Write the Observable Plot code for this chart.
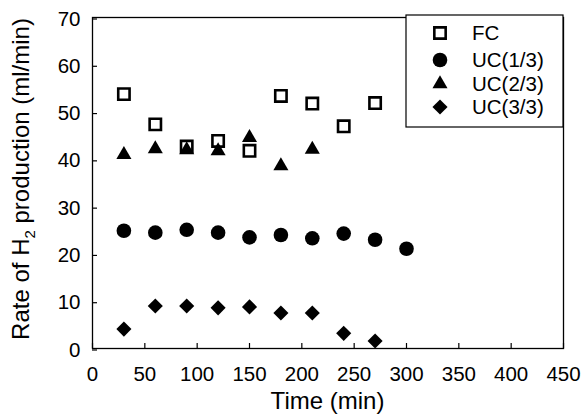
<!DOCTYPE html>
<html>
<head>
<meta charset="utf-8">
<script src="https://cdn.jsdelivr.net/npm/d3@7"></script>
<script src="https://cdn.jsdelivr.net/npm/@observablehq/plot@0.6"></script>
<style>
  html, body { margin: 0; padding: 0; background: #fff; }
  #chart { position: relative; width: 581px; height: 419px; }
</style>
</head>
<body>
<div id="chart"></div>
<script>
// ---- data ----
const timeFC   = [30, 60, 90, 120, 150, 180, 210, 240, 270];
const valFC    = [53.8, 47.4, 42.7, 43.9, 41.8, 53.4, 51.8, 47.0, 51.9];
const timeUC1  = [30, 60, 90, 120, 150, 180, 210, 240, 270, 300];
const valUC1   = [24.9, 24.5, 25.1, 24.5, 23.5, 24.0, 23.3, 24.3, 23.0, 21.1];
const timeUC2  = [30, 60, 90, 120, 150, 180, 210];
const valUC2   = [41.0, 42.2, 42.0, 41.8, 44.6, 38.6, 42.1];
const timeUC3  = [30, 60, 90, 120, 150, 180, 210, 240, 270];
const valUC3   = [4.1, 9.0, 9.0, 8.6, 8.8, 7.5, 7.5, 3.2, 1.6];
const seriesNames = ["FC", "UC(1/3)", "UC(2/3)", "UC(3/3)"];
const xTicks = [0, 50, 100, 150, 200, 250, 300, 350, 400, 450];
const yTicks = [0, 10, 20, 30, 40, 50, 60, 70];
const xTitle = "Time (min)";
const yTitleParts = ["Rate of H", "2", " production (ml/min)"];

const rows = (t, v) => t.map((x, i) => ({t: x, v: v[i]}));
const dFC = rows(timeFC, valFC), dU1 = rows(timeUC1, valUC1),
      dU2 = rows(timeUC2, valUC2), dU3 = rows(timeUC3, valUC3);

const FONT = "'Liberation Sans', Arial, Helvetica, sans-serif";
const W = 581, H = 419, ML = 92, MR = 18, MT = 17, MB = 71;

const styles = [
  {symbol: "square", r: 6.4, fill: "none", stroke: "black", strokeWidth: 2.6},
  {symbol: "circle", r: 7.3, fill: "black", stroke: "none", strokeWidth: 0},
  {symbol: "triangle", r: 5.6, fill: "black", stroke: "none", strokeWidth: 0},
  {symbol: "diamond2", r: 6.8, fill: "black", stroke: "none", strokeWidth: 0}
];

const plot = Plot.plot({
  width: W, height: H,
  marginLeft: ML, marginRight: MR, marginTop: MT, marginBottom: MB,
  style: {fontFamily: FONT, fontSize: "20px", color: "black", background: "white"},
  x: {domain: [0, 450], ticks: xTicks, label: null},
  y: {domain: [0, 70], ticks: yTicks, label: null},
  marks: [
    Plot.frame({stroke: "black", strokeWidth: 1.3}),
    Plot.axisX(xTicks, {tickSize: -5, tickPadding: 23, fontSize: 20.5, label: null, strokeWidth: 1.2}),
    Plot.axisY(yTicks, {tickSize: -5, tickPadding: 17, fontSize: 20.5, dy: 1.5, label: null, strokeWidth: 1.2}),
    Plot.dot(dU2, {x: "t", y: "v", ...styles[2]}),
    Plot.dot(dU1, {x: "t", y: "v", ...styles[1]}),
    Plot.dot(dU3, {x: "t", y: "v", ...styles[3]}),
    Plot.dot(dFC, {x: "t", y: "v", ...styles[0]})
  ]
});

document.getElementById("chart").appendChild(plot);
const svg = d3.select(plot);

// axis titles
svg.append("text")
  .attr("x", (ML + W - MR) / 2).attr("y", 409)
  .attr("text-anchor", "middle")
  .attr("font-family", FONT).attr("font-size", 24).attr("fill", "black")
  .text(xTitle);

const yt = svg.append("text")
  .attr("transform", `translate(29, 179) rotate(-90)`)
  .attr("text-anchor", "middle")
  .attr("font-family", FONT).attr("font-size", 24).attr("fill", "black");
yt.append("tspan").text(yTitleParts[0]);
yt.append("tspan").attr("font-size", 15).attr("dy", 6).text(yTitleParts[1]);
yt.append("tspan").attr("dy", -6).text(yTitleParts[2]);

// legend
const lg = svg.append("g");
lg.append("rect").attr("x", 406).attr("y", 15).attr("width", 157).attr("height", 112)
  .attr("fill", "white").attr("stroke", "black").attr("stroke-width", 1.2);
const symMap = {square: d3.symbolSquare, circle: d3.symbolCircle, triangle: d3.symbolTriangle, diamond2: d3.symbolDiamond2};
const rowY = [33, 60, 84, 107];
seriesNames.forEach((name, i) => {
  const s = styles[i];
  lg.append("path")
    .attr("transform", `translate(440, ${rowY[i]})`)
    .attr("d", d3.symbol(symMap[s.symbol], Math.PI * s.r * s.r)())
    .attr("fill", s.fill).attr("stroke", s.stroke).attr("stroke-width", s.strokeWidth);
  lg.append("text").attr("x", 472).attr("y", rowY[i]).attr("dy", "0.35em")
    .attr("text-anchor", "start")
    .attr("font-family", FONT).attr("font-size", 20.5).attr("fill", "black")
    .text(name);
});
</script>
</body>
</html>
